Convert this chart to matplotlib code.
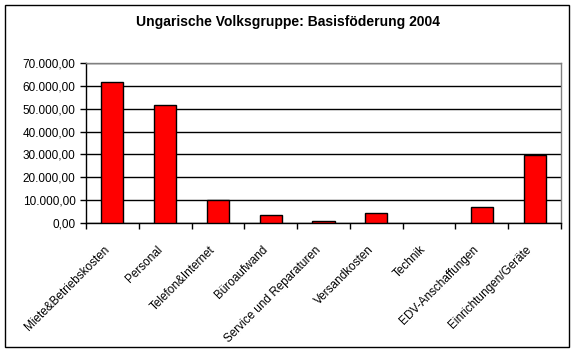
import matplotlib
matplotlib.use("Agg")
import matplotlib.pyplot as plt
from matplotlib.ticker import FuncFormatter, MultipleLocator
from matplotlib.transforms import ScaledTranslation
import numpy as np

categories = ["Miete&Betriebskosten", "Personal", "Telefon&Internet", "Büroaufwand",
              "Service und Reparaturen", "Versandkosten", "Technik",
              "EDV-Anschaffungen", "Einrichtungen/Geräte"]
values = [61500, 51500, 10000, 3400, 800, 4300, 0, 7000, 29800]
title = "Ungarische Volksgruppe: Basisföderung 2004"

plt.rcParams['font.family'] = ['Liberation Sans', 'DejaVu Sans']

fig = plt.figure(figsize=(5.76, 3.54), dpi=100)
W, H = 576, 354
ax = fig.add_axes([86 / W, 1 - 223 / H, (561 - 86) / W, (223 - 63) / H])

x = np.arange(len(categories))
lw = [1.0 if v > 0 else 0.0 for v in values]
ax.bar(x, values, width=0.42, color="#ff0000", edgecolor="black", linewidth=lw, zorder=3)

ax.set_xlim(-0.5, len(categories) - 0.5)
ax.set_ylim(0, 70000)
ax.yaxis.set_major_locator(MultipleLocator(10000))

def fmt(v, pos):
    s = f"{v:,.2f}"
    return s.replace(",", "X").replace(".", ",").replace("X", ".")
ax.yaxis.set_major_formatter(FuncFormatter(fmt))
ax.grid(axis="y", color="black", linewidth=1.0, zorder=1)
ax.set_axisbelow(True)

ax.set_xticks(np.arange(len(categories) + 1) - 0.5)
ax.set_xticklabels([])
ax.set_xticks(x, minor=True)
ax.set_xticklabels(categories, minor=True, rotation=45, ha="right", va="top",
                   rotation_mode="anchor", fontsize=8.5)
ax.tick_params(axis="x", which="minor", length=0, pad=15)
ax.tick_params(axis="x", which="major", direction="out", length=4, width=1, color="black")
ax.tick_params(axis="y", direction="out", length=4, width=1, labelsize=8.5, pad=3.5)

offset = ScaledTranslation(-9 / 100, 0, fig.dpi_scale_trans)
for lab in ax.get_xticklabels(minor=True):
    lab.set_transform(lab.get_transform() + offset)

for s in ["top", "right"]:
    ax.spines[s].set_color("#808080")
    ax.spines[s].set_linewidth(1.0)
for s in ["left", "bottom"]:
    ax.spines[s].set_color("black")
    ax.spines[s].set_linewidth(1.0)

fig.text(0.5, 1 - 22 / H, title, ha="center", va="center", fontsize=10, fontweight="bold")

frame = plt.Rectangle((5 / W, 1 - 347 / H), (569 - 5) / W, (347 - 5) / H,
                      transform=fig.transFigure, fill=False, edgecolor="black", linewidth=1.0)
fig.patches.append(frame)

fig.savefig("out.png", dpi=100)
